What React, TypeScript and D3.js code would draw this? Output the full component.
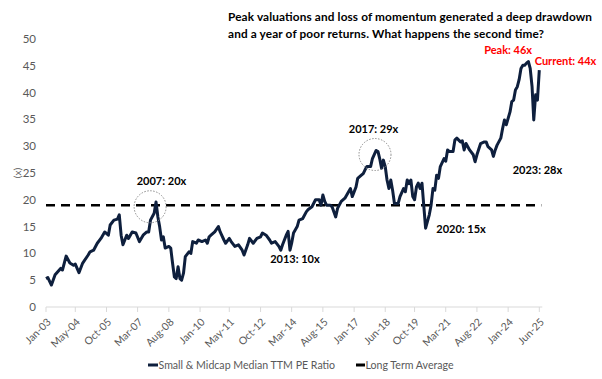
import React from "react";
import * as d3 from "d3";

const months: string[] = [
  "2003-01","2003-02","2003-04","2003-06","2003-09","2003-10","2003-12","2004-02","2004-04","2004-05",
  "2004-07","2004-09","2004-12","2005-01","2005-03","2005-05","2005-07","2005-09","2005-11","2005-12",
  "2006-02","2006-04","2006-05","2006-06","2006-07","2006-09","2006-10","2006-12","2007-02","2007-04",
  "2007-06","2007-08","2007-09","2007-10","2007-12","2008-01","2008-02","2008-03","2008-04","2008-05",
  "2008-06","2008-08","2008-09","2008-10","2008-11","2008-12","2009-01","2009-02","2009-03","2009-04",
  "2009-05","2009-07","2009-08","2009-09","2009-11","2009-12","2010-02","2010-04","2010-05","2010-06",
  "2010-07","2010-09","2010-11","2010-12","2011-02","2011-03","2011-05","2011-06","2011-08","2011-10",
  "2011-12","2012-01","2012-03","2012-04","2012-06","2012-08","2012-10","2012-11","2013-01","2013-03",
  "2013-04","2013-06","2013-08","2013-09","2013-10","2013-12","2014-01","2014-02","2014-03","2014-04",
  "2014-06","2014-07","2014-09","2014-11","2014-12","2015-02","2015-04","2015-06","2015-07","2015-08",
  "2015-09","2015-10","2015-12","2016-01","2016-03","2016-04","2016-06","2016-08","2016-10","2016-11",
  "2016-12","2017-02","2017-03","2017-05","2017-06","2017-07","2017-08","2017-10","2017-11","2018-01",
  "2018-02","2018-03","2018-04","2018-05","2018-06","2018-07","2018-08","2018-09","2018-10","2018-11",
  "2019-01","2019-02","2019-04","2019-05","2019-06","2019-07","2019-08","2019-09","2019-10","2019-11",
  "2019-12","2020-01","2020-02","2020-03","2020-04","2020-06","2020-07","2020-08","2020-09","2020-10",
  "2020-11","2020-12","2021-02","2021-03","2021-04","2021-05","2021-07","2021-08","2021-09","2021-11",
  "2021-12","2022-01","2022-02","2022-04","2022-06","2022-07","2022-08","2022-10","2022-12","2023-01",
  "2023-02","2023-04","2023-05","2023-06","2023-07","2023-09","2023-10","2023-11","2023-12","2024-02",
  "2024-03","2024-04","2024-05","2024-06","2024-07","2024-08","2024-09","2024-10","2024-11","2024-12",
  "2025-01","2025-02","2025-03","2025-04","2025-05","2025-06"
];

const peRatio: number[] = [
  5.3,5.5,4.1,6.0,7.2,6.9,9.5,8.2,7.8,8.0,
  6.4,8.2,9.7,10.3,10.6,11.9,12.8,14.0,13.4,15.3,
  16.2,16.4,17.2,13.4,11.6,13.4,12.8,14.0,13.8,12.2,
  13.4,14.0,14.0,16.2,17.5,19.6,16.8,15.0,12.5,13.1,
  11.0,11.3,11.0,8.2,5.6,5.3,7.5,5.3,5.0,6.3,
  9.4,10.3,10.0,12.2,11.9,12.5,12.2,12.5,11.9,13.1,
  13.4,14.0,15.0,14.0,12.5,11.9,12.8,12.2,11.3,11.6,
  10.6,9.7,11.6,12.8,11.9,12.8,13.1,13.8,13.4,12.5,
  11.9,12.2,11.3,10.6,11.6,13.4,14.1,10.6,11.9,13.8,
  15.0,16.2,16.5,17.8,18.2,18.7,20.0,20.0,19.0,20.9,
  19.7,19.0,19.0,18.7,16.8,18.4,19.7,20.3,21.5,22.1,
  20.6,22.4,24.0,24.6,24.9,25.6,26.2,26.2,27.7,29.2,
  29.0,27.7,25.9,27.4,26.2,23.7,22.1,23.7,21.8,19.3,
  19.3,20.6,22.1,21.5,23.7,23.0,23.7,20.6,20.0,22.4,
  23.1,22.1,23.1,19.0,14.7,17.2,19.0,22.1,21.8,24.6,
  24.0,26.2,27.7,27.2,29.3,29.0,29.0,31.2,31.5,30.8,
  31.0,29.3,30.5,29.3,28.4,27.1,28.4,30.5,30.8,30.8,
  29.9,29.3,28.1,29.3,30.2,31.5,33.3,34.9,34.0,36.4,
  38.3,38.6,40.5,41.1,42.4,44.5,45.1,45.1,45.5,45.8,
  44.5,41.1,34.9,39.6,38.6,44.2
];

const longTermAverage = 19;

const xTickMonths: string[] = [
  "2003-01","2004-05","2005-10","2007-03","2008-08","2010-01","2011-05","2012-10","2014-03",
  "2015-08","2017-01","2018-06","2019-10","2021-03","2022-08","2024-01","2025-06"
];
const yTicks: number[] = [0, 5, 10, 15, 20, 25, 30, 35, 40, 45, 50];

const annoTexts: string[] = ["2007: 20x", "2013: 10x", "2017: 29x", "2020: 15x", "2023: 28x", "Peak: 46x", "Current: 44x"];
const annoMonths: string[] = ["2008-04-01", "2014-04-25", "2017-11-20", "2021-11-10", "2025-05-01", "2024-01-01", "2026-08-10"];
const annoValues: number[] = [22.7, 8.2, 32.5, 13.8, 24.8, 47.2, 45.1];
const annoRed: boolean[] = [false, false, false, false, false, true, true];

const circleMonths: string[] = ["2007-09-25", "2017-12-13"];
const circleValues: number[] = [18.7, 28.45];

const titleLines: string[] = [
  "Peak valuations and loss of momentum generated a deep drawdown",
  "and a year of poor returns. What happens the second time?"
];
const titleWidths: number[] = [364, 316];

const seriesName = "Small & Midcap Median TTM PE Ratio";
const avgName = "Long Term Average";

const W = 602, H = 379;
const FONT = "Lato, 'Open Sans', sans-serif";

export default function App() {
  const parseM = d3.timeParse("%Y-%m");
  const parseD = d3.timeParse("%Y-%m-%d");
  const data = months.map((m, i) => ({ date: parseM(m) as Date, v: peRatio[i] }));
  const x = d3.scaleTime()
    .domain([parseM("2003-01") as Date, parseM("2025-06") as Date])
    .range([46, 539.3]);
  const y = d3.scaleLinear().domain([0, 50]).range([307, 39]);
  const line = d3.line<{ date: Date; v: number }>()
    .x(d => x(d.date))
    .y(d => y(d.v))
    .curve(d3.curveLinear);
  const fmt = d3.timeFormat("%b-%y");
  const x0 = x.range()[0], x1 = x.range()[1];

  return (
    <svg width={W} height={H} style={{ position: "absolute", left: 0, top: 0, background: "#fff" }}
      fontFamily={FONT}>
      {/* title */}
      {titleLines.map((t, i) => (
        <text key={i} x={228} y={21 + i * 16.5} fontSize={11.8} fontWeight={700} fill="#000"
          textLength={titleWidths[i]} lengthAdjust="spacing">{t}</text>
      ))}
      {/* y axis labels */}
      {yTicks.map(t => (
        <text key={t} x={36} y={y(t)} dy="0.35em" textAnchor="end" fontSize={11.5} fill="#595959">{t}</text>
      ))}
      <text transform={`translate(17,${y(25)}) rotate(-90)`} textAnchor="middle" dy="0.35em" fontSize={10} fill="#595959">(x)</text>
      {/* x axis */}
      <line x1={x0} x2={x1 + 3} y1={y(0)} y2={y(0)} stroke="#d9d9d9" strokeWidth={1} />
      {xTickMonths.map(m => {
        const d = parseM(m) as Date;
        const px = x(d);
        return (
          <g key={m}>
            <line x1={px} x2={px} y1={y(0)} y2={y(0) + 5} stroke="#d9d9d9" strokeWidth={1} />
            <text transform={`translate(${px + 3},${y(0) + 13}) rotate(-45)`} textAnchor="end" dy="0.35em"
              fontSize={10.5} fill="#595959">{fmt(d)}</text>
          </g>
        );
      })}
      {/* long term average */}
      <line x1={x0} x2={x1 + 2} y1={y(longTermAverage)} y2={y(longTermAverage)} stroke="#000"
        strokeWidth={2.5} strokeDasharray="9,6" />
      {/* series */}
      <path d={line(data) || ""} fill="none" stroke="#0e1f3d" strokeWidth={3} strokeLinejoin="round" />
      {/* circles */}
      {circleMonths.map((m, i) => (
        <circle key={m} cx={x(parseD(m) as Date)} cy={y(circleValues[i])} r={16} fill="none"
          stroke="#8c8c8c" strokeWidth={1} strokeDasharray="1.5,1.5" />
      ))}
      {/* annotations */}
      {annoTexts.map((t, i) => (
        <text key={t} x={x(parseD(annoMonths[i]) as Date)} y={y(annoValues[i])} textAnchor="middle"
          fontSize={11} fontWeight={700} fill={annoRed[i] ? "#ff0000" : "#000"}>{t}</text>
      ))}
      {/* legend */}
      <line x1={148} x2={158} y1={365} y2={365} stroke="#0e1f3d" strokeWidth={3} />
      <text x={158.5} y={365} dy="0.35em" fontSize={10.6} fill="#595959">{seriesName}</text>
      <line x1={356} x2={365} y1={365} y2={365} stroke="#000" strokeWidth={3} />
      <text x={365.5} y={365} dy="0.35em" fontSize={10.6} fill="#595959">{avgName}</text>
    </svg>
  );
}
